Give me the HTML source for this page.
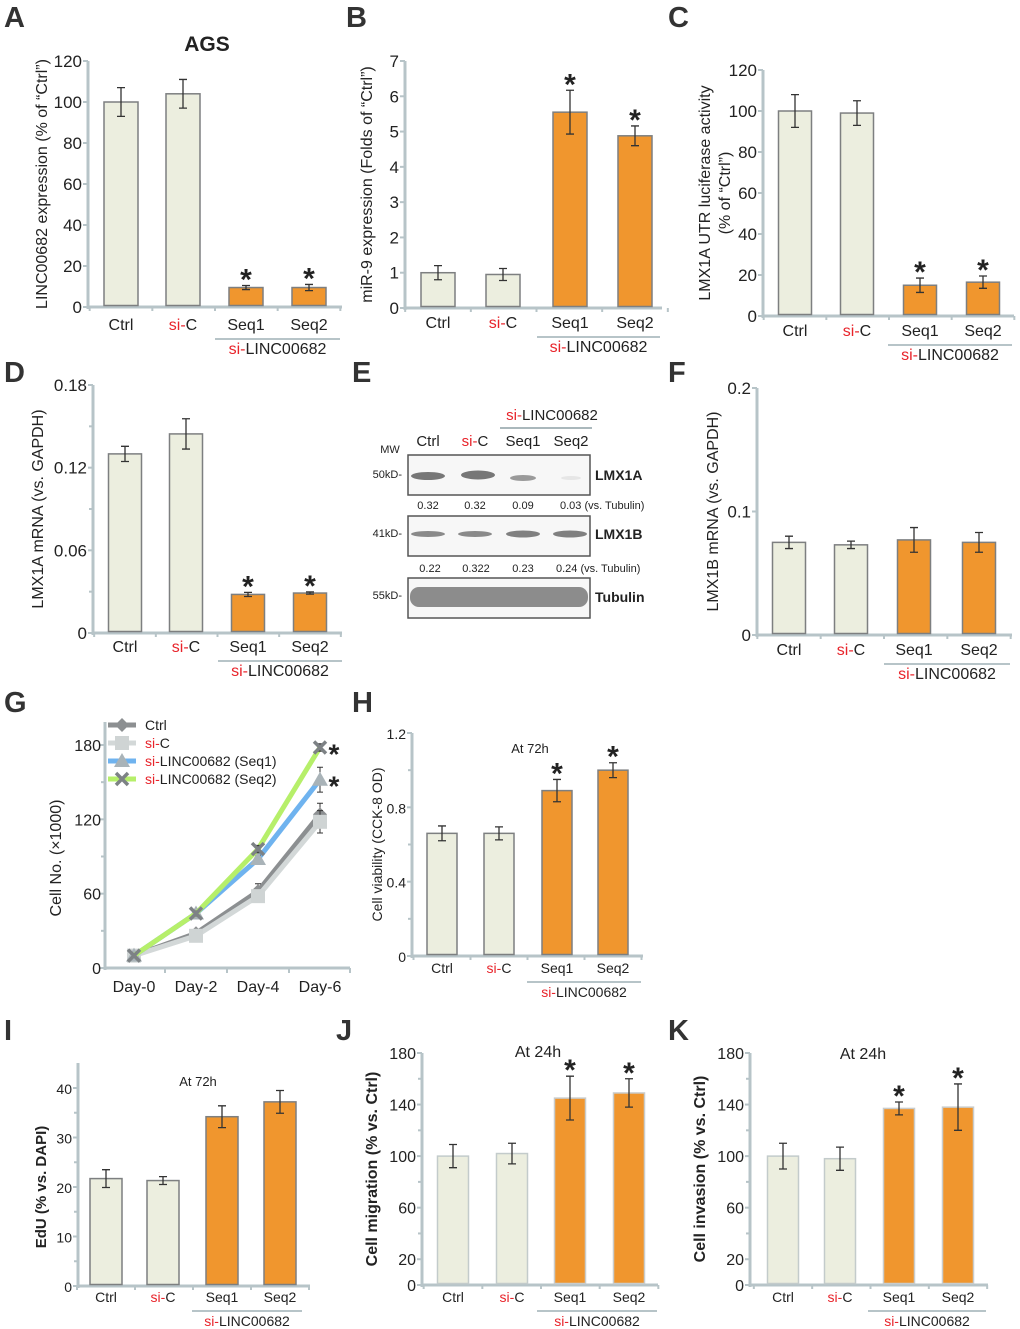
<!DOCTYPE html>
<html><head><meta charset="utf-8"><style>
body{margin:0;background:#fff;}
svg{display:block;font-family:"Liberation Sans",Arial,sans-serif;}
.pl{font-size:29px;font-weight:bold;fill:#333;}
</style></head><body>
<svg id="fig" width="1020" height="1329" viewBox="0 0 1020 1329" xmlns="http://www.w3.org/2000/svg">
<text class="pl" x="4" y="27">A</text>
<text class="pl" x="346" y="27">B</text>
<text class="pl" x="668" y="27">C</text>
<text class="pl" x="4" y="382">D</text>
<text class="pl" x="352" y="382">E</text>
<text class="pl" x="668" y="382">F</text>
<text class="pl" x="4" y="712">G</text>
<text class="pl" x="352" y="712">H</text>
<text class="pl" x="4" y="1040">I</text>
<text class="pl" x="336" y="1040">J</text>
<text class="pl" x="668" y="1040">K</text>
<text x="207" y="51" font-size="21" font-weight="bold" fill="#222" text-anchor="middle">AGS</text>

<g font-size="14" fill="#222">
<text x="552" y="420" font-size="15" text-anchor="middle"><tspan fill="#e8232a">si-</tspan>LINC00682</text>
<line x1="500" y1="428" x2="592" y2="428" stroke="#aab8bc" stroke-width="2"/>
<text x="390" y="453" font-size="11" text-anchor="middle">MW</text>
<text x="428" y="446" font-size="15" text-anchor="middle">Ctrl</text>
<text x="475" y="446" font-size="15" text-anchor="middle"><tspan fill="#e8232a">si-</tspan>C</text>
<text x="523" y="446" font-size="15" text-anchor="middle">Seq1</text>
<text x="571" y="446" font-size="15" text-anchor="middle">Seq2</text>
<rect x="408" y="455" width="182" height="40" fill="#f7f7f7" stroke="#555" stroke-width="1.5"/>
<ellipse cx="428" cy="476" rx="17" ry="4" fill="#777"/>
<ellipse cx="478" cy="475" rx="17" ry="4.5" fill="#777"/>
<ellipse cx="523" cy="478" rx="13" ry="3" fill="#9a9a9a"/>
<ellipse cx="571" cy="478" rx="10" ry="2" fill="#e6e6e6"/>
<rect x="408" y="516" width="182" height="40" fill="#f7f7f7" stroke="#555" stroke-width="1.5"/>
<ellipse cx="428" cy="534" rx="17" ry="3" fill="#8a8a8a"/>
<ellipse cx="475" cy="534" rx="17" ry="3" fill="#8a8a8a"/>
<ellipse cx="523" cy="534" rx="17" ry="3.5" fill="#808080"/>
<ellipse cx="570" cy="534" rx="17" ry="3.5" fill="#808080"/>
<rect x="408" y="578" width="182" height="40" fill="#f7f7f7" stroke="#555" stroke-width="1.5"/>
<rect x="410" y="587" width="178" height="20" rx="9" fill="#8c8c8c"/>
<text x="402" y="478" font-size="11" text-anchor="end">50kD-</text>
<text x="402" y="537" font-size="11" text-anchor="end">41kD-</text>
<text x="402" y="599" font-size="11" text-anchor="end">55kD-</text>
<text x="595" y="480" font-size="14" font-weight="bold">LMX1A</text>
<text x="595" y="539" font-size="14" font-weight="bold">LMX1B</text>
<text x="595" y="602" font-size="14" font-weight="bold">Tubulin</text>
<g font-size="11">
<text x="428" y="509" text-anchor="middle">0.32</text><text x="475" y="509" text-anchor="middle">0.32</text><text x="523" y="509" text-anchor="middle">0.09</text><text x="560" y="509">0.03 (vs. Tubulin)</text>
<text x="430" y="572" text-anchor="middle">0.22</text><text x="476" y="572" text-anchor="middle">0.322</text><text x="523" y="572" text-anchor="middle">0.23</text><text x="556" y="572">0.24 (vs. Tubulin)</text>
</g>
</g>
</svg>
<script>
const categories = ["Ctrl","si-C","Seq1","Seq2"];
const aValues = [100,104,9.5,9.5];      const aErrors = [7,7,1,1.5];
const bValues = [1.0,0.95,5.55,4.88];   const bErrors = [0.2,0.17,0.62,0.28];
const cValues = [100,99,15,16.5];       const cErrors = [8,6,3.5,3];
const dValues = [0.13,0.1445,0.028,0.029]; const dErrors = [0.0055,0.011,0.0015,0.0008];
const fValues = [0.075,0.073,0.077,0.075]; const fErrors = [0.005,0.003,0.01,0.008];
const hValues = [0.66,0.66,0.89,1.0];   const hErrors = [0.04,0.035,0.06,0.04];
const iValues = [21.7,21.3,34.2,37.2];  const iErrors = [1.8,0.8,2.2,2.3];
const jValues = [100,102,145,149];      const jErrors = [9,8,17,11];
const kValues = [100,98,137,138];       const kErrors = [10,9,5,18];
const aTicks=[0,20,40,60,80,100,120], bTicks=[0,1,2,3,4,5,6,7], cTicks=[0,20,40,60,80,100,120];
const dTicks=[0,0.06,0.12,0.18], fTicks=[0,0.1,0.2], hTicks=[0,0.4,0.8,1.2];
const iTicks=[0,10,20,30,40], jTicks=[0,20,60,100,140,180];
const gDays=["Day-0","Day-2","Day-4","Day-6"];
const gCtrl=[10,28,62,124], gSiC=[10,26,58,118], gSeq1=[10,44,88,152], gSeq2=[10,44,96,178];
const gErrCtrl=[1,2,6,9], gErrSiC=[1,2,4,9], gErrSeq1=[1,2,3,10], gErrSeq2=[1,2,3,3];
const gTicks=[0,60,120,180];

const NS="http://www.w3.org/2000/svg", svg=document.getElementById('fig');
function el(t,a,p){const e=document.createElementNS(NS,t);for(const k in a)e.setAttribute(k,a[k]);(p||svg).appendChild(e);return e;}
function txt(s,a,p){const e=el('text',a,p);e.textContent=s;return e;}
const AX="#b7c4c8";

function barPanel(name,cfg,vals,errs,ticks,stars){
  const g=el('g',{});
  
  
  const y=v=>cfg.y0-(v-0)/(cfg.tmax)*(cfg.y0-cfg.ytop);
  const axTop=cfg.axTop!==undefined?cfg.axTop:y(cfg.tmax);
  el('line',{x1:cfg.ax,y1:axTop,x2:cfg.ax,y2:cfg.y0+2,stroke:AX,'stroke-width':3},g);
  el('line',{x1:cfg.ax,y1:cfg.y0,x2:cfg.xend,y2:cfg.y0,stroke:AX,'stroke-width':3},g);
  const minor=cfg.minor||[];
  minor.forEach(v=>el('line',{x1:cfg.ax-4,y1:y(v),x2:cfg.ax,y2:y(v),stroke:AX,'stroke-width':2},g));
  ticks.forEach(v=>{
    el('line',{x1:cfg.ax-5,y1:y(v),x2:cfg.ax,y2:y(v),stroke:AX,'stroke-width':2},g);
    const t=txt(String(v),{x:cfg.ax-6,y:y(v)+6,'font-size':cfg.fs||17,'text-anchor':'end',fill:'#222'},g);
    
    
  });
  const step=(cfg.centers[3]-cfg.centers[0])/3;
  for(let i=0;i<5;i++){const x=cfg.centers[0]-step/2+i*step;el('line',{x1:x,y1:cfg.y0,x2:x,y2:cfg.y0+4,stroke:AX,'stroke-width':2},g);}
  vals.forEach((v,i)=>{
    const cx=cfg.centers[i], bw=cfg.bw, top=y(v);
    const r=el('rect',{x:cx-bw/2,y:top,width:bw,height:cfg.y0-top-1.5,fill:i<2?'#eceedf':'#f0962e',stroke:cfg.light?(i<2?'#c3cbcb':'#c9cccc'):'#7d7f80','stroke-width':1.5},g);
    
    
    const e=errs[i], y1=y(v+e), y2=y(v-e);
    el('path',{d:`M${cx},${y1}V${y2}M${cx-4},${y1}H${cx+4}M${cx-4},${y2}H${cx+4}`,stroke:'#333','stroke-width':1.3,fill:'none'},g);
    if(stars&&stars[i]){const s=txt('*',{x:cx,y:y1+(cfg.starOff||4),'font-size':30,'font-weight':'bold','text-anchor':'middle',fill:'#222'},g);
      
      }
  });
  categories.forEach((c,i)=>{
    const t=txt('',{x:cfg.centers[i],y:cfg.labY,'font-size':cfg.lfs||16,'text-anchor':'middle',fill:'#222'},g);
    
    
    if(c==='si-C'){t.innerHTML='<tspan fill="#e8232a">si-</tspan>C';}else t.textContent=c;
  });
  el('line',{x1:cfg.gx1,y1:cfg.labY+9,x2:cfg.gx2,y2:cfg.labY+9,stroke:AX,'stroke-width':2},g);
  const gl=txt('',{x:(cfg.gx1+cfg.gx2)/2,y:cfg.labY+24,'font-size':cfg.lfs||16,'text-anchor':'middle',fill:'#222'},g);
  gl.innerHTML='<tspan fill="#e8232a">si-</tspan>LINC00682';
  
  
  cfg.title.forEach((tt,k)=>{
    const x=cfg.tx+k*20, yy=(cfg.y0+cfg.ytop)/2;
    const t=txt(tt,{x:x,y:yy,transform:`rotate(-90 ${x} ${yy})`,'font-size':cfg.tfs||16,'font-weight':cfg.bold?'bold':'normal','text-anchor':'middle',fill:'#222'},g);
    
    
  });
  if(cfg.note){const t=txt(cfg.note[0],{x:cfg.note[1],y:cfg.note[2],'font-size':cfg.note[3],'text-anchor':'middle',fill:'#222'},g);
    
    }
}
const S=[false,false,true,true];
barPanel('chart-a',{ax:88,y0:307,ytop:61,tmax:120,xend:342,centers:[121,183,246,309],bw:34,labY:330,gx1:215,gx2:340,tx:47,title:['LINC00682 expression (% of “Ctrl”)']},aValues,aErrors,aTicks,S);
barPanel('chart-b',{ax:405,y0:308,ytop:61,tmax:7,xend:662,centers:[438,503,570,635],bw:34,labY:328,gx1:537,gx2:660,tx:372,title:['miR-9 expression (Folds of “Ctrl”)']},bValues,bErrors,bTicks,S);
barPanel('chart-c',{ax:763,y0:316,ytop:70,tmax:120,xend:1014,centers:[795,857,920,983],bw:33,labY:336,gx1:888,gx2:1012,tx:710,title:['LMX1A UTR luciferase activity','(% of “Ctrl”)']},cValues,cErrors,cTicks,S);
barPanel('chart-d',{ax:93,y0:633,ytop:385,tmax:0.18,xend:342,centers:[125,186,248,310],bw:33,labY:652,gx1:218,gx2:342,tx:43,minor:[0.03,0.09,0.15],title:['LMX1A mRNA (vs. GAPDH)']},dValues,dErrors,dTicks,S);
barPanel('chart-f',{ax:757,y0:635,ytop:388,tmax:0.2,xend:1012,centers:[789,851,914,979],bw:33,labY:655,gx1:884,gx2:1010,tx:718,title:['LMX1B mRNA (vs. GAPDH)']},fValues,fErrors,fTicks,null);
barPanel('chart-h',{ax:412,y0:956,ytop:733,tmax:1.2,xend:643,centers:[442,499,557,613],bw:30,labY:973,gx1:527,gx2:641,tx:382,fs:14,lfs:14,tfs:14,minor:[0.2,0.6,1.0],note:['At 72h',530,753,13],title:['Cell viability (CCK-8 OD)']},hValues,hErrors,hTicks,S);
barPanel('chart-i',{ax:78,y0:1286,ytop:1088,tmax:40,axTop:1063,xend:310,centers:[106,163,222,280],bw:32,labY:1302,gx1:192,gx2:302,tx:46,fs:14,lfs:14,tfs:15,bold:true,minor:[5,15,25,35],note:['At 72h',198,1086,13],title:['EdU (% vs. DAPI)']},iValues,iErrors,iTicks,[false,false,false,false]);
barPanel('chart-j',{ax:422,y0:1285,ytop:1053,tmax:180,xend:658,centers:[453,512,570,629],bw:31,labY:1302,gx1:537,gx2:657,tx:377,light:true,fs:16,lfs:14,bold:true,minor:[40,80,120,160],note:['At 24h',538,1057,16],title:['Cell migration (% vs. Ctrl)']},jValues,jErrors,jTicks,S);
barPanel('chart-k',{ax:750,y0:1285,ytop:1053,tmax:180,xend:988,centers:[783,840,899,958],bw:31,labY:1302,gx1:868,gx2:986,tx:705,light:true,fs:16,lfs:14,bold:true,minor:[40,80,120,160],note:['At 24h',863,1059,16],title:['Cell invasion (% vs. Ctrl)']},kValues,kErrors,jTicks,S);

(function(){
  const g=el('g',{});
  
  
  const ax=105,y0=968,ytop=745,tmax=180;
  const y=v=>y0-v/tmax*(y0-ytop);
  const x=i=>134+i*62;
  el('line',{x1:ax,y1:722,x2:ax,y2:y0+2,stroke:AX,'stroke-width':3},g);
  el('line',{x1:ax,y1:y0,x2:350,y2:y0,stroke:AX,'stroke-width':3},g);
  [30,90,150].forEach(v=>el('line',{x1:ax-4,y1:y(v),x2:ax,y2:y(v),stroke:AX,'stroke-width':2},g));
  gTicks.forEach(v=>{el('line',{x1:ax-5,y1:y(v),x2:ax,y2:y(v),stroke:AX,'stroke-width':2},g);
    const t=txt(String(v),{x:ax-4,y:y(v)+6,'font-size':16,'text-anchor':'end',fill:'#222'},g);
    
    });
  [165,227,289,350].forEach(xx=>el('line',{x1:xx,y1:y0,x2:xx,y2:y0+5,stroke:AX,'stroke-width':2},g));
  gDays.forEach((d,i)=>{const t=txt(d,{x:x(i),y:992,'font-size':16,'text-anchor':'middle',fill:'#222'},g);
    
    });
  const yt=txt('Cell No. (×1000)',{x:61,y:858,transform:'rotate(-90 61 858)','font-size':16,'text-anchor':'middle',fill:'#222'},g);
  
  
  const series=[[gCtrl,gErrCtrl,'#8c8f91','dia','Ctrl'],[gSiC,gErrSiC,'#d3d8d8','sq','si-C'],[gSeq1,gErrSeq1,'#6fb3ef','tri','Seq1'],[gSeq2,gErrSeq2,'#b6ef6a','x','Seq2']];
  function marker(kind,cx,cy){
    if(kind==='dia')el('path',{d:`M${cx},${cy-7}L${cx+7},${cy}L${cx},${cy+7}L${cx-7},${cy}Z`,fill:'#8c8f91'},g);
    if(kind==='sq')el('rect',{x:cx-7,y:cy-7,width:14,height:14,fill:'#cfd4d4'},g);
    if(kind==='tri')el('path',{d:`M${cx},${cy-8}L${cx+8},${cy+6}L${cx-8},${cy+6}Z`,fill:'#a9b3b8'},g);
    if(kind==='x')el('path',{d:`M${cx-6},${cy-6}L${cx+6},${cy+6}M${cx-6},${cy+6}L${cx+6},${cy-6}`,stroke:'#7d8285','stroke-width':3.5},g);
  }
  series.forEach(([vals,errs,col,mk,nm])=>{
    const p=el('polyline',{points:vals.map((v,i)=>x(i)+','+y(v)).join(' '),fill:'none',stroke:col,'stroke-width':5},g);
    
    
    vals.forEach((v,i)=>{const e=errs[i];
      el('path',{d:`M${x(i)},${y(v+e)}V${y(v-e)}M${x(i)-3},${y(v+e)}H${x(i)+3}M${x(i)-3},${y(v-e)}H${x(i)+3}`,stroke:'#333','stroke-width':1},g);
      marker(mk,x(i),y(v));});
  });
  const s1=txt('*',{x:x(3)+14,y:y(gSeq2[3])+16,'font-size':28,'font-weight':'bold','text-anchor':'middle',fill:'#222'},g);
  
  
  const s2=txt('*',{x:x(3)+14,y:y(gSeq1[3])+16,'font-size':28,'font-weight':'bold','text-anchor':'middle',fill:'#222'},g);
  
  
  const leg=[['Ctrl',series[0]],['si-C',series[1]],['si-LINC00682 (Seq1)',series[2]],['si-LINC00682 (Seq2)',series[3]]];
  leg.forEach(([lab,s],k)=>{const yy=725+k*18;
    el('line',{x1:108,y1:yy,x2:136,y2:yy,stroke:s[2],'stroke-width':5},g);
    marker(s[3],122,yy);
    const t=txt('',{x:145,y:yy+5,'font-size':14,fill:'#222'},g);
    
    
    if(lab.startsWith('si-'))t.innerHTML='<tspan fill="#e8232a">si-</tspan>'+lab.slice(3);else t.textContent=lab;
  });
})();
</script>
</body></html>
